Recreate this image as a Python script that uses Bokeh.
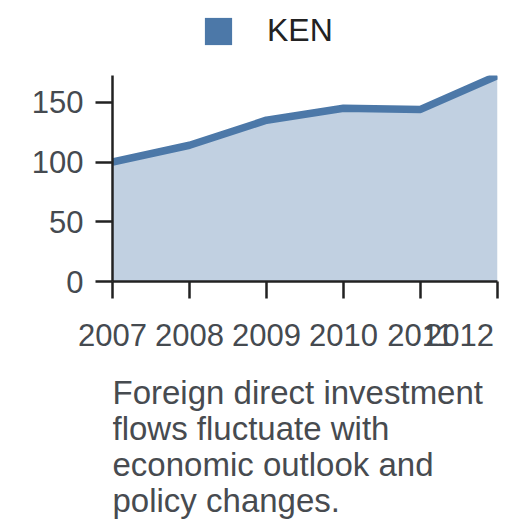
from bokeh.plotting import figure
from bokeh.layouts import column
from bokeh.models import Range1d, FixedTicker, Legend, LegendItem, Label, ColumnDataSource
from bokeh.embed import file_html
from bokeh.resources import INLINE

years = [2007, 2008, 2009, 2010, 2011, 2012]
ken = [100, 114, 135, 145, 144, 172.4]
series_name = "KEN"
y_ticks = [0, 50, 100, 150]
caption_lines = ["Foreign direct investment", "flows fluctuate with",
                 "economic outlook and", "policy changes."]

COLOR = "#4C78A8"
FONT = "Liberation Sans"
W = 528
TOP_H, MAIN_H, CAP_H = 75, 290, 163
FRAME_H = 206
FRAME_W = 385


def bare(fig):
    fig.outline_line_color = None
    fig.xgrid.visible = False
    fig.ygrid.visible = False
    fig.min_border = 0


src = ColumnDataSource(dict(x=years, y=ken, y0=[0] * len(years)))

# ---- legend strip ----
top = figure(width=W, height=TOP_H, output_backend="svg", toolbar_location=None,
             x_range=Range1d(0, FRAME_W), y_range=Range1d(0, TOP_H),
             x_axis_location=None, y_axis_location=None)
bare(top)
# zero-width swatch renderer of the series (only its legend swatch shows)
swatch = top.quad(left="x", right="x", bottom="y0", top="y", source=src,
                  fill_color=COLOR, line_color=None)
legend = Legend(items=[LegendItem(label=series_name, renderers=[swatch])],
                location=(89, 26), orientation="horizontal",
                glyph_width=34, glyph_height=34, label_standoff=32,
                label_text_font=FONT, label_text_font_size="32px",
                label_text_color="#222222", padding=0, margin=0, spacing=0,
                border_line_color=None, background_fill_alpha=0)
top.add_layout(legend, "center")

# ---- main chart ----
p = figure(width=W, height=MAIN_H, output_backend="svg", toolbar_location=None,
           x_range=Range1d(years[0], years[-1]), y_range=Range1d(0, max(ken)))
bare(p)
p.min_border_left = 112
p.min_border_right = 31
p.min_border_top = 0
p.min_border_bottom = MAIN_H - FRAME_H

p.varea(x="x", y1="y0", y2="y", source=src, fill_color=COLOR, fill_alpha=0.35)
p.line(x="x", y="y", source=src, line_color=COLOR, line_width=7.5, line_join="round")

for ax in (p.xaxis[0], p.yaxis[0]):
    ax.axis_line_color = "#222222"
    ax.axis_line_width = 2.5
    ax.major_tick_line_color = "#222222"
    ax.major_tick_line_width = 2.5
    ax.major_tick_out = 17
    ax.major_tick_in = 0
    ax.minor_tick_line_color = None
    ax.major_label_text_font = FONT
    ax.major_label_text_color = "#454a50"

p.xaxis.ticker = FixedTicker(ticks=years)
p.xaxis.major_label_text_font_size = "31px"
p.xaxis.major_label_standoff = 19
# last label kept inside the chart edge (shifted left like the reference)
p.xaxis.major_label_overrides = {years[-1]: str(years[-1]) + "\u00a0" * 4}
p.yaxis.ticker = FixedTicker(ticks=y_ticks)
p.yaxis.major_label_text_font_size = "31px"
p.yaxis.major_label_standoff = 12

# ---- caption ----
cap = figure(width=W, height=CAP_H, output_backend="svg", toolbar_location=None,
             x_range=Range1d(0, FRAME_W), y_range=Range1d(0, CAP_H),
             x_axis_location=None, y_axis_location=None)
bare(cap)
for i, line in enumerate(caption_lines):
    cap.add_layout(Label(x=0, y=136 - 36 * i, text=line, text_font=FONT,
                         text_font_size="33px", text_color="#474b50",
                         text_baseline="alphabetic"))

layout = column(top, p, cap, spacing=0)
open("out.html", "w").write(file_html(layout, INLINE))
